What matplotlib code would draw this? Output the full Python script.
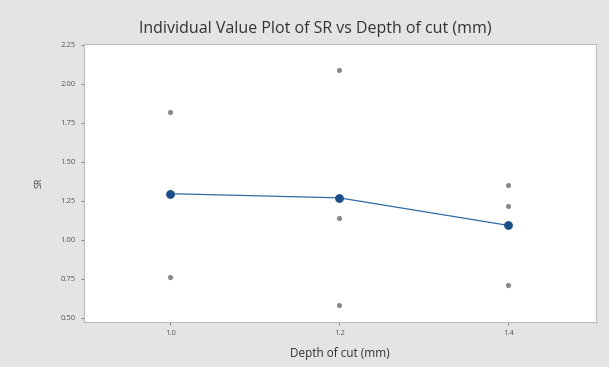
import matplotlib
matplotlib.use("Agg")
import matplotlib.pyplot as plt
import numpy as np

depth = [1.0, 1.0, 1.0, 1.2, 1.2, 1.2, 1.4, 1.4, 1.4]
sr = [1.82, 0.76, 1.31, 2.09, 1.14, 0.58, 1.35, 1.22, 0.71]
levels = [1.0, 1.2, 1.4]
xticklabels = ["1.0", "1.2", "1.4"]
yticks = [0.50, 0.75, 1.00, 1.25, 1.50, 1.75, 2.00, 2.25]

depth_a = np.array(depth)
sr_a = np.array(sr)
means = [sr_a[depth_a == l].mean() for l in levels]

plt.rcParams['font.family'] = ['Open Sans', 'DejaVu Sans']

fig = plt.figure(figsize=(6.09, 3.67), dpi=100, facecolor="#e4e4e4")
ax = fig.add_axes([0.138, 0.123, 0.841, 0.757])
ax.set_facecolor("white")

ax.scatter(depth, sr, s=14, color="#8a8a8a", zorder=3, linewidths=0)
ax.plot(levels, means, color="#2f6aa6", lw=0.9, zorder=2)
ax.scatter(levels, means, s=40, color="#1c4f8a", zorder=4, linewidths=0)

ax.set_xlim(0.898, 1.504)
ax.set_ylim(0.475, 2.256)
ax.set_xticks(levels)
ax.set_xticklabels(xticklabels)
ax.set_yticks(yticks)
ax.set_yticklabels([f"{v:.2f}" for v in yticks])
ax.tick_params(labelsize=5.5, colors="#555555", length=2.5, width=0.5)
for s in ax.spines.values():
    s.set_color("#bdbdbd")
    s.set_linewidth(0.8)

ax.set_xlabel("Depth of cut (mm)", fontsize=8.5, color="#333333", labelpad=7)
ax.set_ylabel("SR", fontsize=6.5, color="#444444", labelpad=12)
fig.text(0.517, 0.92, "Individual Value Plot of SR vs Depth of cut (mm)",
         ha="center", va="center", fontsize=11.5, color="#333333")

fig.savefig("out.png", dpi=100, facecolor=fig.get_facecolor())
